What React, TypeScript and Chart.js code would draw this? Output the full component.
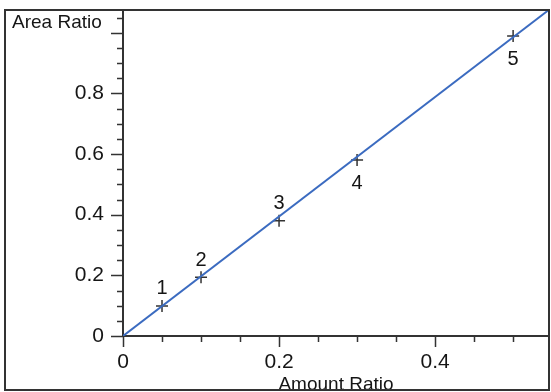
import { useEffect, useRef } from "react";
import { Chart, registerables } from "chart.js";

Chart.register(...registerables);

// Calibration samples
const sampleIds = ["1", "2", "3", "4", "5"];
const amountRatio = [0.05, 0.1, 0.2, 0.3, 0.5];
const areaRatio = [0.099, 0.194, 0.38, 0.58, 0.989];
const labelSide = ["above", "above", "above", "below", "below"];

// Fitted calibration line through the origin
const fitSlope = 1.97;

// Axis ranges and labelled ticks
const xMax = 0.546;
const yMax = 1.075;
const xLabelTicks = [0, 0.2, 0.4];
const yLabelTicks = [0, 0.2, 0.4, 0.6, 0.8];
const xTitle = "Amount Ratio";
const yTitle = "Area Ratio";

const FONT = "'Liberation Sans', Arial, sans-serif";
const INK = "#151515";
const FRAME = "#333";

const isLabelled = (list: number[], v: number) =>
  list.some((t) => Math.abs(t - v) < 1e-6);

const frameAndTicks = {
  id: "frameAndTicks",
  afterDraw(chart: any) {
    const { ctx, chartArea, scales } = chart;
    const xs = scales.x;
    const ys = scales.y;
    ctx.save();

    // tick marks: long at every 0.2, short at every 0.05
    ctx.strokeStyle = FRAME;
    ctx.lineWidth = 1.5;
    ctx.beginPath();
    for (const t of ys.ticks) {
      const major = Math.round(t.value * 100) % 20 === 0;
      const py = Math.round(ys.getPixelForValue(t.value)) + 0.5;
      ctx.moveTo(chartArea.left - (major ? 12 : 6), py);
      ctx.lineTo(chartArea.left, py);
    }
    for (const t of xs.ticks) {
      const major = Math.round(t.value * 100) % 20 === 0;
      const px = Math.round(xs.getPixelForValue(t.value)) + 0.5;
      ctx.moveTo(px, chartArea.bottom);
      ctx.lineTo(px, chartArea.bottom + (major ? 11 : 6));
    }
    ctx.stroke();

    // point numbers
    const meta = chart.getDatasetMeta(1);
    ctx.fillStyle = INK;
    ctx.font = `20px ${FONT}`;
    ctx.textAlign = "center";
    ctx.textBaseline = "middle";
    meta.data.forEach((el: any, i: number) => {
      const dy = labelSide[i] === "above" ? -17 : 23;
      ctx.fillText(sampleIds[i], el.x, el.y + dy);
    });

    // axis titles
    ctx.font = `19px ${FONT}`;
    ctx.textBaseline = "alphabetic";
    ctx.textAlign = "left";
    ctx.fillText(yTitle, 12, 28);
    ctx.textAlign = "center";
    ctx.fillText(xTitle, (chartArea.left + chartArea.right) / 2, 390);

    // outer frame
    ctx.strokeStyle = FRAME;
    ctx.lineWidth = 2;
    ctx.strokeRect(5, chartArea.top, chartArea.right - 5, 390 - chartArea.top);
    ctx.restore();
  },
};

export default function App() {
  const canvasRef = useRef<HTMLCanvasElement | null>(null);

  useEffect(() => {
    if (!canvasRef.current) return;
    const chart = new Chart(canvasRef.current, {
      type: "scatter",
      data: {
        datasets: [
          {
            type: "line",
            data: [
              { x: 0, y: 0 },
              { x: xMax, y: fitSlope * xMax },
            ],
            borderColor: "#3b6bc0",
            borderWidth: 2,
            pointRadius: 0,
            fill: false,
          },
          {
            type: "scatter",
            data: amountRatio.map((x, i) => ({ x, y: areaRatio[i] })),
            pointStyle: "cross",
            pointRadius: 6,
            borderColor: "#333",
            borderWidth: 1.5,
            backgroundColor: "#333",
          },
        ],
      },
      options: {
        animation: false,
        responsive: false,
        layout: { autoPadding: false, padding: { top: 10, right: 2, left: 0, bottom: 0 } },
        plugins: {
          legend: { display: false },
          tooltip: { enabled: false },
        },
        scales: {
          x: {
            type: "linear",
            min: 0,
            max: xMax,
            afterFit: (s: any) => {
              s.height = 56;
              s.paddingLeft = 0;
              s.paddingRight = 0;
            },
            grid: { display: false, drawTicks: false },
            border: { display: true, color: FRAME, width: 2 },
            ticks: {
              stepSize: 0.05,
              autoSkip: false,
              includeBounds: false,
              maxRotation: 0,
              padding: 14,
              color: INK,
              font: { family: FONT, size: 21 },
              callback: (v: any) =>
                isLabelled(xLabelTicks, Number(v)) ? String(+Number(v).toFixed(1)) : "",
            },
          },
          y: {
            type: "linear",
            min: 0,
            max: yMax,
            afterFit: (s: any) => {
              s.width = 123;
              s.paddingTop = 0;
              s.paddingBottom = 0;
            },
            grid: { display: false, drawTicks: false },
            border: { display: true, color: FRAME, width: 2 },
            ticks: {
              stepSize: 0.05,
              autoSkip: false,
              includeBounds: false,
              padding: 19,
              color: INK,
              font: { family: FONT, size: 21 },
              callback: (v: any) =>
                isLabelled(yLabelTicks, Number(v)) ? String(+Number(v).toFixed(1)) : "",
            },
          },
        },
      },
      plugins: [frameAndTicks],
    });
    return () => chart.destroy();
  }, []);

  return (
    <div style={{ position: "fixed", left: 0, top: 0, width: 551, height: 392, background: "#fff" }}>
      <canvas ref={canvasRef} width={551} height={392} />
    </div>
  );
}
